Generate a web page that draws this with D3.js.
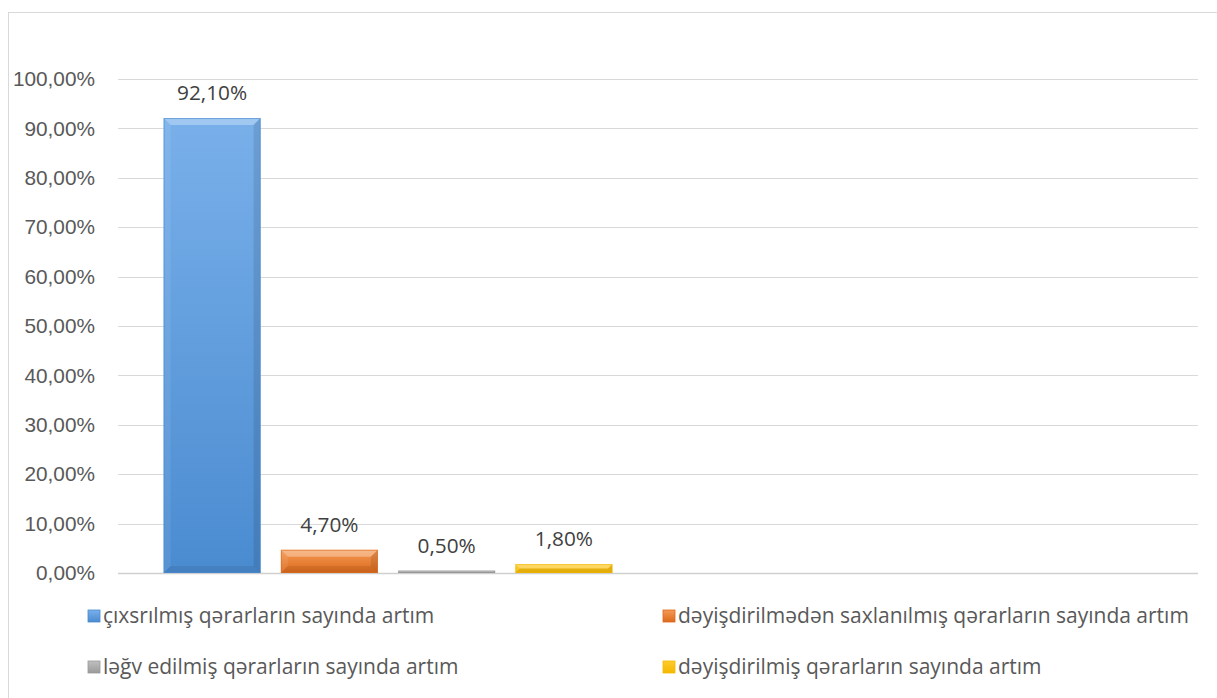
<!DOCTYPE html>
<html>
<head>
<meta charset="utf-8">
<script src="https://cdn.jsdelivr.net/npm/d3@7"></script>
<style>
	body{margin:0;background:#fff;}
	svg{display:block;font-family:'Open Sans',sans-serif;}
	.tick text{fill:#595959;font-size:20.8px;}
	.label{fill:#404040;font-size:20.8px;}
	.legend text{fill:#595959;font-size:21px;}
</style>
</head>
<body>
<svg id="chart" width="1217" height="698"></svg>
<script>
const categories = ['1','2']
const series = [
	'çıxsrılmış qərarların sayında artım',
	'dəyişdirilmədən saxlanılmış qərarların sayında artım',
	'ləğv edilmiş qərarların sayında artım',
	'dəyişdirilmiş qərarların sayında artım'
]
const values = [92.1, 4.7, 0.5, 1.8]
const labels = ['92,10%','4,70%','0,50%','1,80%']
const colors = [
	['#79b0ea','#4a8bd0'],
	['#f59a55','#dc6a1c'],
	['#c0c0c0','#9a9a9a'],
	['#ffcb2e','#f5b800']
]
const yTicks = [0,10,20,30,40,50,60,70,80,90,100]

const margin = {top:79, right:19, bottom:125, left:118}
const width = 1217 - margin.left - margin.right
const height = 698 - margin.top - margin.bottom

const svg = d3.select('#chart')

/*outer frame*/
svg.append('rect')
	.attr('x',8.5).attr('y',12.5)
	.attr('width',1230).attr('height',700)
	.attr('fill','none').attr('stroke','#d9d9d9')

const defs = svg.append('defs')
colors.forEach((c,i)=>{
	const g = defs.append('linearGradient')
		.attr('id',`grad${i}`)
		.attr('x1',0).attr('y1',0).attr('x2',0).attr('y2',1)
	g.append('stop').attr('offset','0%').attr('stop-color',c[0])
	g.append('stop').attr('offset','100%').attr('stop-color',c[1])
})

const chart = svg.append('g').attr('transform',`translate(${margin.left},${margin.top})`)

const xScale = d3.scaleBand().domain(categories).range([0,width]).padding(0)
const xSub = d3.scaleBand()
	.domain(d3.range(series.length))
	.range([0,xScale.bandwidth()])
	.paddingInner(0.173)
	.paddingOuter(0.389)
const yScale = d3.scaleLinear().domain([0,100]).range([height,0])

const fmt = v => d3.format('.2f')(v).replace('.',',') + '%'

/*gridlines*/
chart.append('g')
	.selectAll('line')
	.data(yTicks)
	.enter()
	.append('line')
	.attr('x1',0).attr('x2',width)
	.attr('y1',d => Math.round(yScale(d))+0.5)
	.attr('y2',d => Math.round(yScale(d))+0.5)
	.attr('stroke',d => d === 0 ? '#d0d0d0' : '#d9d9d9')
	.attr('stroke-width',d => d === 0 ? 1.5 : 1)

const axisY = chart.append('g')
	.call(d3.axisLeft(yScale).tickValues(yTicks).tickFormat(fmt).tickSize(0).tickPadding(23))
axisY.select('.domain').remove()

const bars = values.map((v,i)=>({
	i,
	v,
	x: xScale(categories[0]) + xSub(i),
	y: yScale(v),
	w: xSub.bandwidth(),
	h: height - yScale(v)
}))

const barG = chart.selectAll('.bar')
	.data(bars)
	.enter()
	.append('g')
	.classed('bar',true)

barG.append('rect')
	.attr('x',d => d.x).attr('y',d => d.y)
	.attr('width',d => d.w).attr('height',d => d.h)
	.attr('fill',d => `url(#grad${d.i})`)

/*bevel edges*/
const bevel = (d,side)=>{
	const b = Math.min(7,d.h/2)
	const x0 = d.x, x1 = d.x+d.w, y0 = d.y, y1 = d.y+d.h
	if(side==='top') return [[x0,y0],[x1,y0],[x1-b,y0+b],[x0+b,y0+b]]
	if(side==='left') return [[x0,y0],[x0+b,y0+b],[x0+b,y1-b],[x0,y1]]
	if(side==='right') return [[x1,y0],[x1,y1],[x1-b,y1-b],[x1-b,y0+b]]
	return [[x0,y1],[x0+b,y1-b],[x1-b,y1-b],[x1,y1]]
}
const bevelStyle = {top:['#fff',0.3],left:['#fff',0.08],right:['#000',0.1],bottom:['#000',0.08]}
Object.keys(bevelStyle).forEach(side=>{
	barG.append('polygon')
		.attr('points',d => bevel(d,side).map(p => p.join(',')).join(' '))
		.attr('fill',bevelStyle[side][0])
		.attr('fill-opacity',bevelStyle[side][1])
})
barG.append('rect')
	.attr('x',d => d.x+0.5).attr('y',d => d.y+0.5)
	.attr('width',d => d.w-1).attr('height',d => Math.max(0,d.h-1))
	.attr('fill','none')
	.attr('stroke',d => colors[d.i][1])
	.attr('stroke-opacity',0.6)

chart.selectAll('.label')
	.data(bars)
	.enter()
	.append('text')
	.classed('label',true)
	.attr('x',d => d.x + d.w/2)
	.attr('y',d => d.y - 18)
	.attr('text-anchor','middle')
	.text(d => labels[d.i])

/*legend*/
const legendPos = [[88,616],[663,616],[88,667],[663,667]]
const legend = svg.append('g').classed('legend',true)
	.selectAll('g')
	.data(series)
	.enter()
	.append('g')
	.attr('transform',(d,i)=>`translate(${legendPos[i][0]},${legendPos[i][1]})`)

legend.append('rect')
	.attr('x',0).attr('y',-6)
	.attr('width',12).attr('height',12)
	.attr('fill',(d,i)=>`url(#grad${i})`)
	.attr('stroke',(d,i)=>colors[i][1])
	.attr('stroke-width',0.8)

legend.append('text')
	.attr('x',15).attr('y',0)
	.attr('dy','0.35em')
	.text(d => d)
</script>
</body>
</html>
